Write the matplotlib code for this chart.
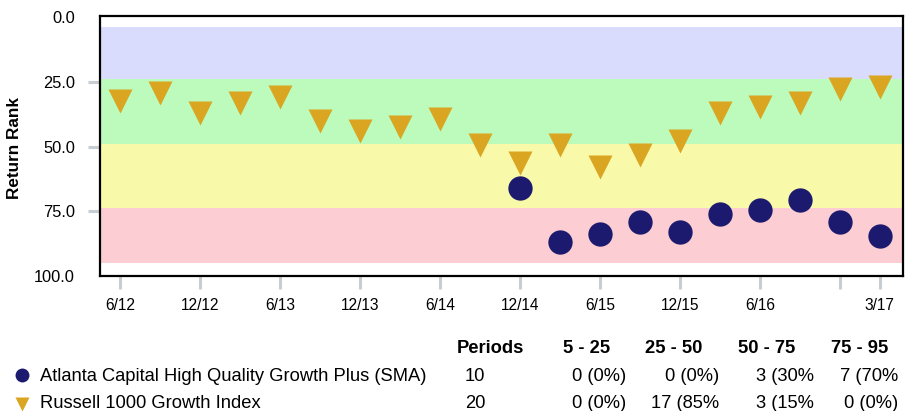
import matplotlib
matplotlib.use("Agg")
import matplotlib.pyplot as plt
from matplotlib.lines import Line2D

plt.rcParams['font.family'] = ['Liberation Sans', 'DejaVu Sans']

# Quarter-end periods (x positions are their indexes)
quarters = ["6/12", "9/12", "12/12", "3/13", "6/13", "9/13", "12/13", "3/14",
            "6/14", "9/14", "12/14", "3/15", "6/15", "9/15", "12/15", "3/16",
            "6/16", "9/16", "12/16", "3/17"]

# Return rank of the benchmark, one per quarter
russell_rank = [32.5, 29.4, 37.0, 33.2, 31.0, 40.1, 44.0, 42.5, 39.4, 49.4,
                56.3, 49.4, 57.8, 53.3, 47.9, 37.1, 34.7, 33.2, 27.9, 27.1]

# Return rank of the strategy, starting at 12/14
atlanta_start = 10
atlanta_rank = [66.1, 86.8, 83.7, 79.1, 82.9, 76.0, 74.5, 70.6, 79.1, 84.5]

# Percentile bands
band_edges = [5, 25, 50, 75, 95]
band_colors = ["#D9DCFC", "#BDFBBD", "#F9F9AA", "#FCCDD2"]

# x tick positions / labels
xtick_pos = [0, 2, 4, 6, 8, 10, 12, 14, 16, 18, 19]
xtick_labels = ["6/12", "12/12", "6/13", "12/13", "6/14", "12/14", "6/15",
                "12/15", "6/16", "", "3/17"]
ytick_pos = [0, 25, 50, 75, 100]

# Summary table
series_names = ["Atlanta Capital High Quality Growth Plus (SMA)",
                "Russell 1000 Growth Index"]
table_header = ["Periods", "5 - 25", "25 - 50", "50 - 75", "75 - 95"]
periods = ["10", "20"]
table_cells = [["0 (0%)", "0 (0%)", "3 (30%", "7 (70%"],
               ["0 (0%)", "17 (85%", "3 (15%", "0 (0%)"]]

navy = "#1B1A6E"
gold = "#DAA520"
tick_gray = "#C8CDD2"

W, H = 909, 411
fig = plt.figure(figsize=(W / 100, H / 100), dpi=100)
ax = fig.add_axes([100 / W, 1 - 276 / H, 803 / W, 260 / H])

# band tops sit a hair above their nominal edge
band_shift = 1.1
for i, (lo, hi, c) in enumerate(zip(band_edges[:-1], band_edges[1:], band_colors)):
    top = lo - band_shift
    bottom = hi - band_shift if i < len(band_colors) - 1 else hi
    ax.axhspan(top, bottom, color=c, lw=0, zorder=0)

ax.plot(range(len(quarters)), russell_rank, ls="none", marker="v",
        ms=17.5, color=gold, mec="none", zorder=3)
ax.plot(range(atlanta_start, atlanta_start + len(atlanta_rank)), atlanta_rank,
        ls="none", marker="o", ms=17.5, color=navy, mec="none", zorder=4)

ax.set_xlim(-0.5, 19.58)
ax.set_ylim(100, -0.5)
ax.set_xticks(xtick_pos)
ax.set_xticklabels(xtick_labels, fontsize=11.2)
ax.set_yticks(ytick_pos)
ax.set_yticklabels([f"{v:.1f}" for v in ytick_pos], fontsize=11.8)
ax.tick_params(axis="x", length=9, width=2.2, color=tick_gray, pad=7)
ax.tick_params(axis="y", length=9, width=2.2, color=tick_gray, pad=9)
yt = ax.yaxis.get_major_ticks()
yt[0].tick1line.set_visible(False)
yt[-1].tick1line.set_visible(False)
for s in ax.spines.values():
    s.set_linewidth(1.6)
    s.set_color("black")

fig.text(15 / W, 1 - 148 / H, "Return Rank", rotation=90, fontsize=12.3,
         fontweight="bold", ha="center", va="center")

# Summary table below the chart, in pixel coordinates
tab = fig.add_axes([0, 0, 1, 1], facecolor="none")
tab.set_xlim(0, W)
tab.set_ylim(H, 0)
tab.axis("off")

fs = 13.2
header_x = [457, 563, 645, 738, 831]
for x, t in zip(header_x, table_header):
    tab.text(x, 353, t, fontsize=fs, fontweight="bold", ha="left", va="baseline")

row_y = [381, 407.5]
cell_right = [626, 719, 814, 898]
markers = [("o", navy, 374.5, 10), ("v", gold, 403.5, 10.5)]
for r in range(2):
    m, c, my, ms = markers[r]
    tab.add_line(Line2D([22], [my], marker=m, ms=ms, color=c, mec="none", ls="none"))
    tab.text(40, row_y[r], series_names[r], fontsize=fs, ha="left", va="baseline")
    tab.text(465, row_y[r], periods[r], fontsize=fs, ha="left", va="baseline")
    for x, t in zip(cell_right, table_cells[r]):
        tab.text(x, row_y[r], t, fontsize=fs, ha="right", va="baseline")

fig.savefig("out.png", dpi=100)
